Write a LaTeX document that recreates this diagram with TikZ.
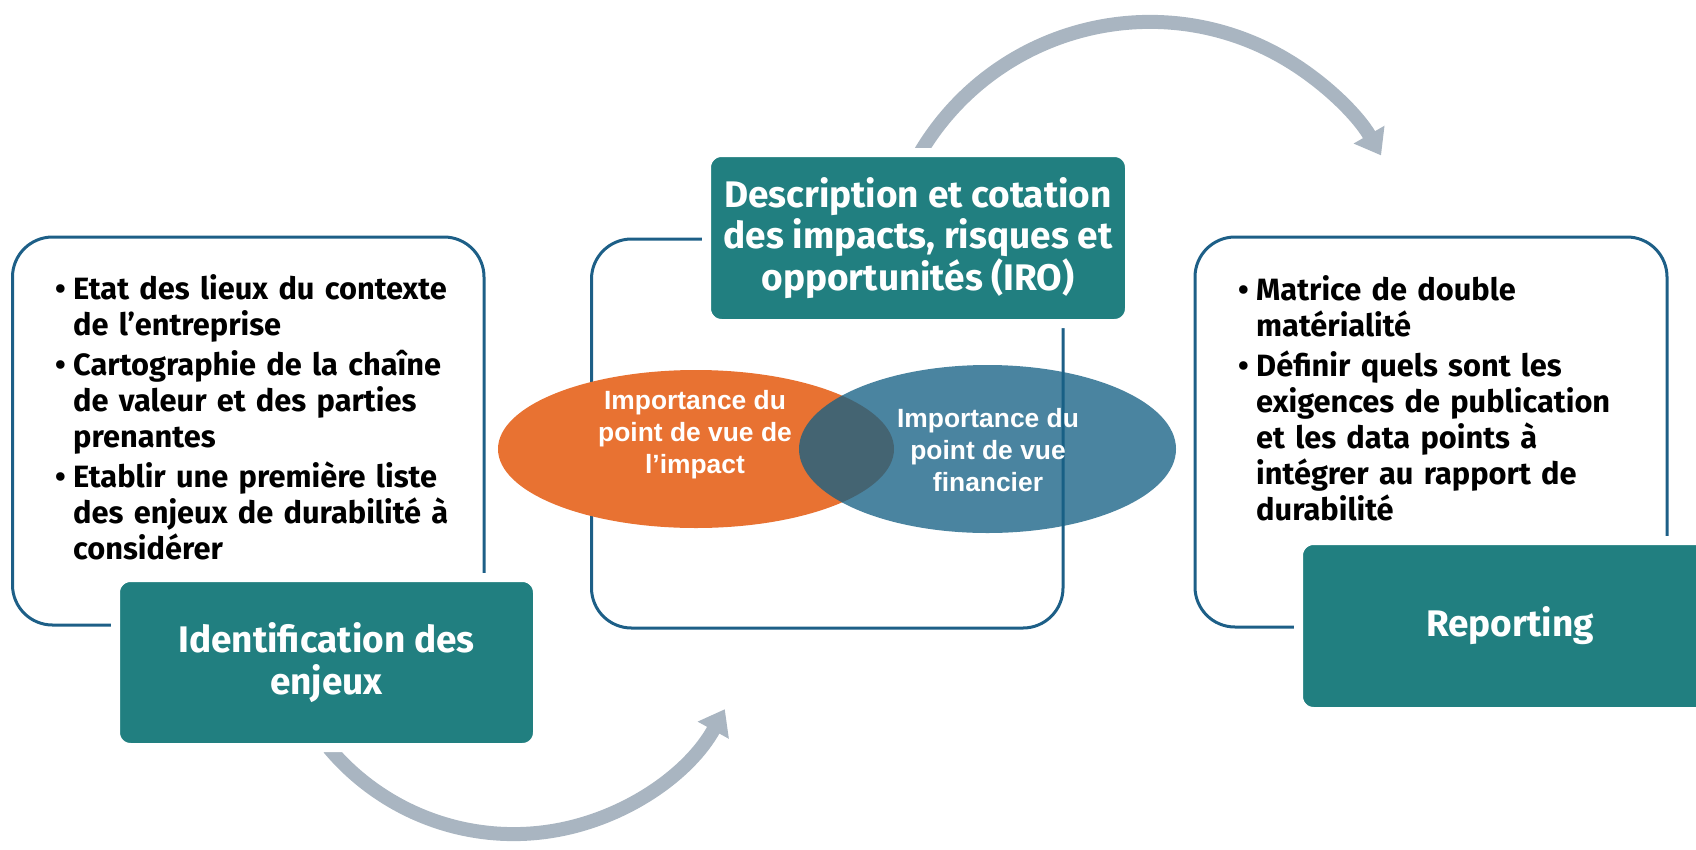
\documentclass[tikz,border=0pt]{standalone}
\usepackage{fontspec}
\setmainfont{Fira Sans}
\newfontfamily\arialfont{Liberation Sans}
\usetikzlibrary{shapes.geometric,arrows.meta}
\definecolor{tealbox}{RGB}{33,127,128}
\definecolor{framecol}{RGB}{29,95,135}
\definecolor{impact}{RGB}{232,114,50}
\definecolor{financ}{RGB}{23,97,133}
\definecolor{flowgray}{RGB}{169,181,193}

\begin{document}
\begin{tikzpicture}[x=1pt,y=-1pt,
	frame/.style={draw=framecol,line width=3pt,rounded corners=40pt},
	stage/.style={fill=tealbox,draw=white,line width=9pt,rounded corners=15pt,text=white,
		font=\fontsize{37}{41.5}\selectfont\bfseries,align=center,inner sep=0pt},
	flow/.style={draw=flowgray,line width=14pt,-{Triangle[length=24pt,width=34pt]}},
	bullets/.style={anchor=base west,inner sep=0pt,text width=#1,
		font=\fontsize{30.8}{36}\selectfont\bfseries},
	lens/.style={ellipse,inner sep=0pt,minimum width=#1},
	lenstext/.style={text=white,align=center,font=\arialfont\fontsize{26.4}{32}\selectfont\bfseries}]
	\useasboundingbox (0,0) rectangle (1696,849);
	\coordinate (c1) at (329,748);
	\coordinate (c2) at (920,153);
	\draw[flow] (c1) arc[start angle=140, end angle=28.8, radius=241];
	\draw[flow] (c2) arc[start angle=-149.4, end angle=-30, radius=267];
	\draw[frame] (12.5,237) rectangle (484,625);
	\draw[frame] (591.5,239) rectangle (1063,628);
	\draw[frame] (1195,237) rectangle (1667,627);
	\node[lens=396pt,fill=impact,minimum height=158pt] (imp) at (696,449) {};
	\node[lens=377pt,fill=financ,fill opacity=0.78,minimum height=168pt] (fin) at (987.5,449) {};
	\node[lenstext] (imptext) at (695,435) {Importance du\\point de vue de\\l’impact};
	\node[lenstext] (fintext) at (988,450) {Importance du\\point de vue\\financier};
	\node[bullets=420pt] (issues) at (55,299) {\parindent=0pt\parskip=4pt\raggedright
		\hangindent=18pt\hangafter=1\makebox[18pt][l]{•}Etat des lieux du contexte\newline de l’entreprise\par
		\hangindent=18pt\hangafter=1\makebox[18pt][l]{•}Cartographie de la chaîne\newline de valeur et des parties\newline prenantes\par
		\hangindent=18pt\hangafter=1\makebox[18pt][l]{•}Etablir une première liste\newline des enjeux de durabilité à\newline considérer\par};
	\node[bullets=440pt] (tasks) at (1238,300) {\parindent=0pt\parskip=4pt\raggedright
		\hangindent=18pt\hangafter=1\makebox[18pt][l]{•}Matrice de double\newline matérialité\par
		\hangindent=18pt\hangafter=1\makebox[18pt][l]{•}Définir quels sont les\newline exigences de publication\newline et les data points à\newline intégrer au rapport de\newline durabilité\par};
	\node[stage,minimum width=422pt,minimum height=170pt] (iden) at (326.5,662.5) {Identification des\\enjeux};
	\node[stage,minimum width=423pt,minimum height=171pt] (iro) at (918,238) {Description et cotation\\des impacts, risques et\\opportunités (IRO)};
	\node[stage,minimum width=423pt,minimum height=171pt] (report) at (1510,626) {Reporting};
\end{tikzpicture}
\end{document}
